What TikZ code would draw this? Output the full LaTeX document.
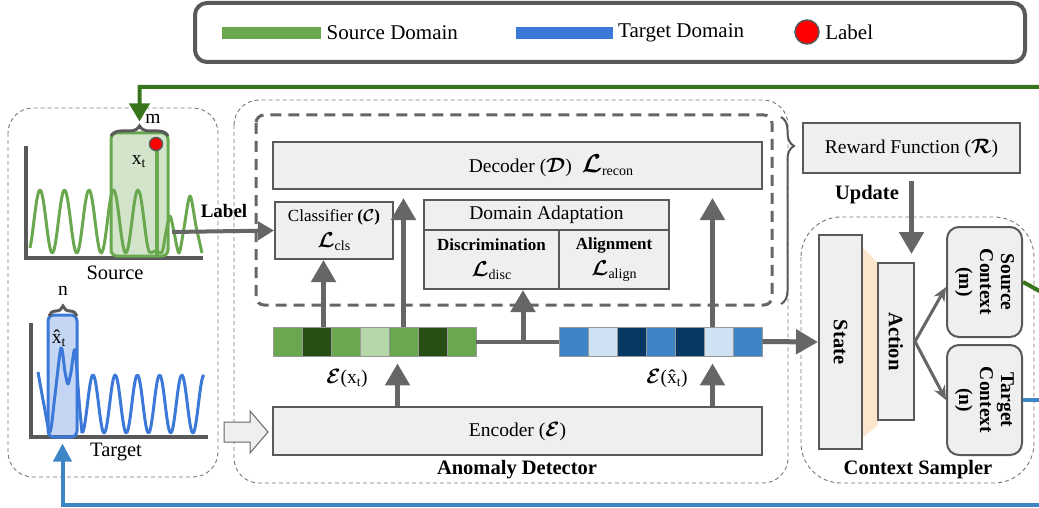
\documentclass[tikz,border=0pt]{standalone}
\usepackage{fontspec}
\setmainfont{Liberation Serif}
\usepackage{amsmath,bm,graphicx}
\usetikzlibrary{arrows.meta,decorations.pathreplacing,positioning}

\definecolor{linegray}{HTML}{666666}
\definecolor{legframe}{HTML}{595959}
\definecolor{zonegray}{HTML}{777777}
\definecolor{boxgray}{HTML}{EFEFEF}
\definecolor{srcgreen}{HTML}{6AA84F}
\definecolor{srcdark}{HTML}{274E13}
\definecolor{srclight}{HTML}{B6D7A8}
\definecolor{fbgreen}{HTML}{38761D}
\definecolor{tgtblue}{HTML}{3C78D8}
\definecolor{tgtmid}{HTML}{3D85C6}
\definecolor{tgtlight}{HTML}{CFE2F3}
\definecolor{tgtdark}{HTML}{073763}
\definecolor{peach}{HTML}{FCE5CD}

\newcommand{\lossterm}[1]{\scalebox{1.25}{$\bm{\mathcal{L}}$}\raisebox{-3pt}{\fontsize{14}{14}\selectfont #1}}

\tikzset{
  box/.style={draw=legframe, fill=boxgray, line width=2pt, inner sep=0pt},
  cell/.style={draw=gray!80, line width=0.8pt, minimum width=29pt, minimum height=29pt, inner sep=0pt},
  zone/.style={draw=zonegray, line width=0.9pt, dash pattern=on 4pt off 3pt, rounded corners=25pt},
  fat/.style={draw=linegray, line width=5pt, -{Triangle[width=24pt,length=22pt]}},
  thin/.style={draw=linegray, line width=4pt},
  fork/.style={draw=linegray, line width=3pt, -{Stealth[width=12pt,length=14pt]}},
  wave/.style={line width=3pt, line join=round},
  heading/.style={font=\fontsize{20.5}{24}\bfseries}
}

\begin{document}
\begin{tikzpicture}[x=1pt,y=-1pt,font=\fontsize{19.5}{23}\selectfont]
\useasboundingbox (0,0) rectangle (1039,508);

% legend
\node[draw=legframe, line width=4pt, rounded corners=12pt, minimum width=830pt, minimum height=59pt] (legend) at (610,32.5) {};
\node[fill=srcgreen, minimum width=99pt, minimum height=12pt, inner sep=0pt] (keysrc) at (271.5,33) {};
\node[right=2pt of keysrc, font=\fontsize{21}{24}\selectfont] {Source Domain};
\node[fill=tgtblue, minimum width=97pt, minimum height=12pt, inner sep=0pt] (keytgt) at (564,33) {};
\node[right=2pt of keytgt, font=\fontsize{21}{24}\selectfont] {Target Domain};
\node[circle, fill=red, draw=legframe, line width=1.5pt, minimum size=24pt, inner sep=0pt] (keylab) at (807,32) {};
\node[right=2pt of keylab, font=\fontsize{21}{24}\selectfont] {Label};

% dashed groups
\draw[zone] (8,108) rectangle (218,477);
\draw[zone] (234,100) rectangle (788,483);
\draw[zone, rounded corners=40pt] (801,217) rectangle (1034,483);
\draw[draw=linegray, line width=3pt, dash pattern=on 11pt off 7pt, rounded corners=8pt] (256,115) rectangle (772,305);
\draw[legframe, line width=2pt, decorate, decoration={brace, amplitude=13pt, aspect=0.155}] (781,117) -- (781,304);

% source series
\draw[legframe, line width=3.5pt] (26,146) -- (26,258) -- (203,258);
\draw[wave, srcgreen] plot[domain=30:150, samples=90, smooth] (\x,{221.5-31.5*cos((\x-40)/24.5*360)});
\draw[wave, srcgreen] plot[smooth] coordinates {(150,253) (156,251) (162,252) (166,232) (170,216) (174,232) (179,253) (184,228) (190,196) (196,226) (202,253)};
\draw[wave, srcgreen, line width=4pt] (157,256) -- (157,150);
\node[draw=srcgreen, fill=srcgreen, fill opacity=0.3, line width=3pt, rounded corners=6pt, minimum width=57pt, minimum height=123pt] (srcwin) at (139.5,194.5) {};
\node[circle, fill=red, draw=legframe, line width=1.5pt, minimum size=13pt, inner sep=0pt] (dot) at (156,144) {};
\draw[legframe, line width=3pt, decorate, decoration={brace, amplitude=10pt}] (111,136) -- (168,136);
\node at (153,119) {m};
\node at (139,162) {x\textsubscript{t}};
\node[font=\fontsize{20.5}{24}\selectfont] at (115,273) {Source};

% target series
\draw[legframe, line width=3.5pt] (31,323) -- (31,437) -- (208,437);
\draw[wave, tgtblue] plot[smooth] coordinates {(38,372) (44,405) (50,432) (55,395) (61,348) (65,372) (68,384) (71,372) (75,350) (79,400) (82,433)};
\draw[wave, tgtblue] plot[domain=82:204, samples=90, smooth] (\x,{404-29*cos((\x-93)/22.2*360)});
\node[draw=tgtblue, fill=tgtblue, fill opacity=0.3, line width=3pt, rounded corners=6pt, minimum width=29pt, minimum height=122pt] (tgtwin) at (62.5,376) {};
\draw[legframe, line width=3pt, decorate, decoration={brace, amplitude=10pt}] (49,316) -- (77,316);
\node at (63,291) {n};
\node at (59,338) {\^{x}\textsubscript{t}};
\node[font=\fontsize{20.5}{24}\selectfont] at (116,452) {Target};

% anomaly detector
\node[box, minimum width=489pt, minimum height=47pt] (dec) at (517.5,165.5) {};
\node at (551,166) {Decoder ($\bm{\mathcal{D}}$)\enspace\lossterm{recon}};
\node[box, minimum width=118pt, minimum height=57pt, align=center, font=\fontsize{17}{20}\selectfont] (cls) at (334,230.5) {Classifier \textbf{(}$\bm{\mathcal{C}}$\textbf{)}\\[6pt]\lossterm{cls}};
\node[box, minimum width=245pt, minimum height=30pt] (dahead) at (546.5,215) {Domain Adaptation};
\node[box, minimum width=135pt, minimum height=59pt, align=center, font=\fontsize{17}{20}\selectfont] (disc) at (491.5,259.5) {\textbf{Discrimination}\\[6pt]\lossterm{disc}};
\node[box, minimum width=110pt, minimum height=59pt, align=center, font=\fontsize{17}{20}\selectfont] (align) at (614,259.5) {\textbf{Alignment}\\[6pt]\lossterm{align}};
\node[box, minimum width=489pt, minimum height=48pt] (enc) at (517.5,431) {Encoder ($\bm{\mathcal{E}}$)};
\node[heading] at (517,470) {Anomaly Detector};

% latent vectors
\foreach \c [count=\i] in {srcgreen,srcdark,srcgreen,srclight,srcgreen,srcdark,srcgreen}
  \node[cell, fill=\c] (g\i) at ({258.5+29*\i},341.5) {};
\foreach \c [count=\i] in {tgtmid,tgtlight,tgtdark,tgtmid,tgtdark,tgtlight,tgtmid}
  \node[cell, fill=\c] (b\i) at ({544.5+29*\i},341.5) {};
\node at (347,378) {$\bm{\mathcal{E}}$(x\textsubscript{t})};
\node at (667,378) {$\bm{\mathcal{E}}$(\^{x}\textsubscript{t})};

% context sampler
\node[box, minimum width=217pt, minimum height=50pt] (rew) at (911.5,148) {Reward Function ($\bm{\mathcal{R}}$)};
\fill[peach] (862,247) -- (878,263) -- (878,425) -- (862,438) -- cycle;
\node[box, minimum width=43pt, minimum height=214pt] (state) at (840.5,342) {};
\node[rotate=-90, heading] at (state) {State};
\node[box, minimum width=36pt, minimum height=157pt] (action) at (896,341.5) {};
\node[rotate=-90, heading] at (action) {Action};
\node[box, rounded corners=12pt, minimum width=75pt, minimum height=110pt] (srcctx) at (984.5,282) {};
\node[rotate=-90, align=center, font=\fontsize{19.5}{21}\bfseries] at (srcctx) {Source\\Context\\(m)};
\node[box, rounded corners=12pt, minimum width=75pt, minimum height=110pt] (tgtctx) at (984.5,400) {};
\node[rotate=-90, align=center, font=\fontsize{19.5}{21}\bfseries] at (tgtctx) {Target\\Context\\(n)};
\node[heading] at (918,470) {Context Sampler};
\node[heading] at (867,195) {Update};

% connectors
\coordinate (labsrc) at (172,232);
\draw[thin, -{Triangle[width=18pt,length=16pt]}] (labsrc) -- (cls.west);
\node[font=\fontsize{19}{22}\bfseries] at (224,211) {Label};
\fill[boxgray, draw=linegray, line width=1pt] (224,422) -- (250,422) -- (250,411) -- (268,432) -- (250,453) -- (250,442) -- (224,442) -- cycle;

\draw[fat] ([xshift=7pt]g2.north) -- ([xshift=7pt]g2.north |- cls.south);
\draw[fat, shorten >=8pt] (g5.north) -- (g5.north |- dec.south);
\draw[fat, shorten >=8pt] ([xshift=-6pt]b6.north) -- ([xshift=-6pt]b6.north |- dec.south);
\draw[fat, shorten >=7pt] ([xshift=-6pt]g5.south |- enc.north) -- ([xshift=-6pt]g5.south);
\draw[fat, shorten >=7pt] ([xshift=-6pt]b6.south |- enc.north) -- ([xshift=-6pt]b6.south);
\draw[thin] (g7.east) -- (b1.west);
\coordinate (jn) at (523,341.5);
\draw[fat] (jn) -- (jn |- disc.south);
\draw[fat] (b7.east) -- (state.west);
\draw[fat, shorten <=7pt] (rew.south) -- ([yshift=-20pt]rew.south |- state.north);
\draw[fork] (action.east) -- ([yshift=-5pt]srcctx.west);
\draw[fork] (action.east) -- (tgtctx.west);

% feedback to the sampled windows
\draw[fbgreen, line width=4pt, -{Triangle[width=20pt,length=18pt]}] (srcctx.east) -- (1045,294) -- (1045,87) -| ([yshift=10pt]srcwin.north);
\draw[tgtmid, line width=4pt, -{Triangle[width=18pt,length=18pt]}] (tgtctx.east) -- (1045,400) -- (1045,505) -| ([yshift=-5pt]tgtwin.south);
\end{tikzpicture}
\end{document}
